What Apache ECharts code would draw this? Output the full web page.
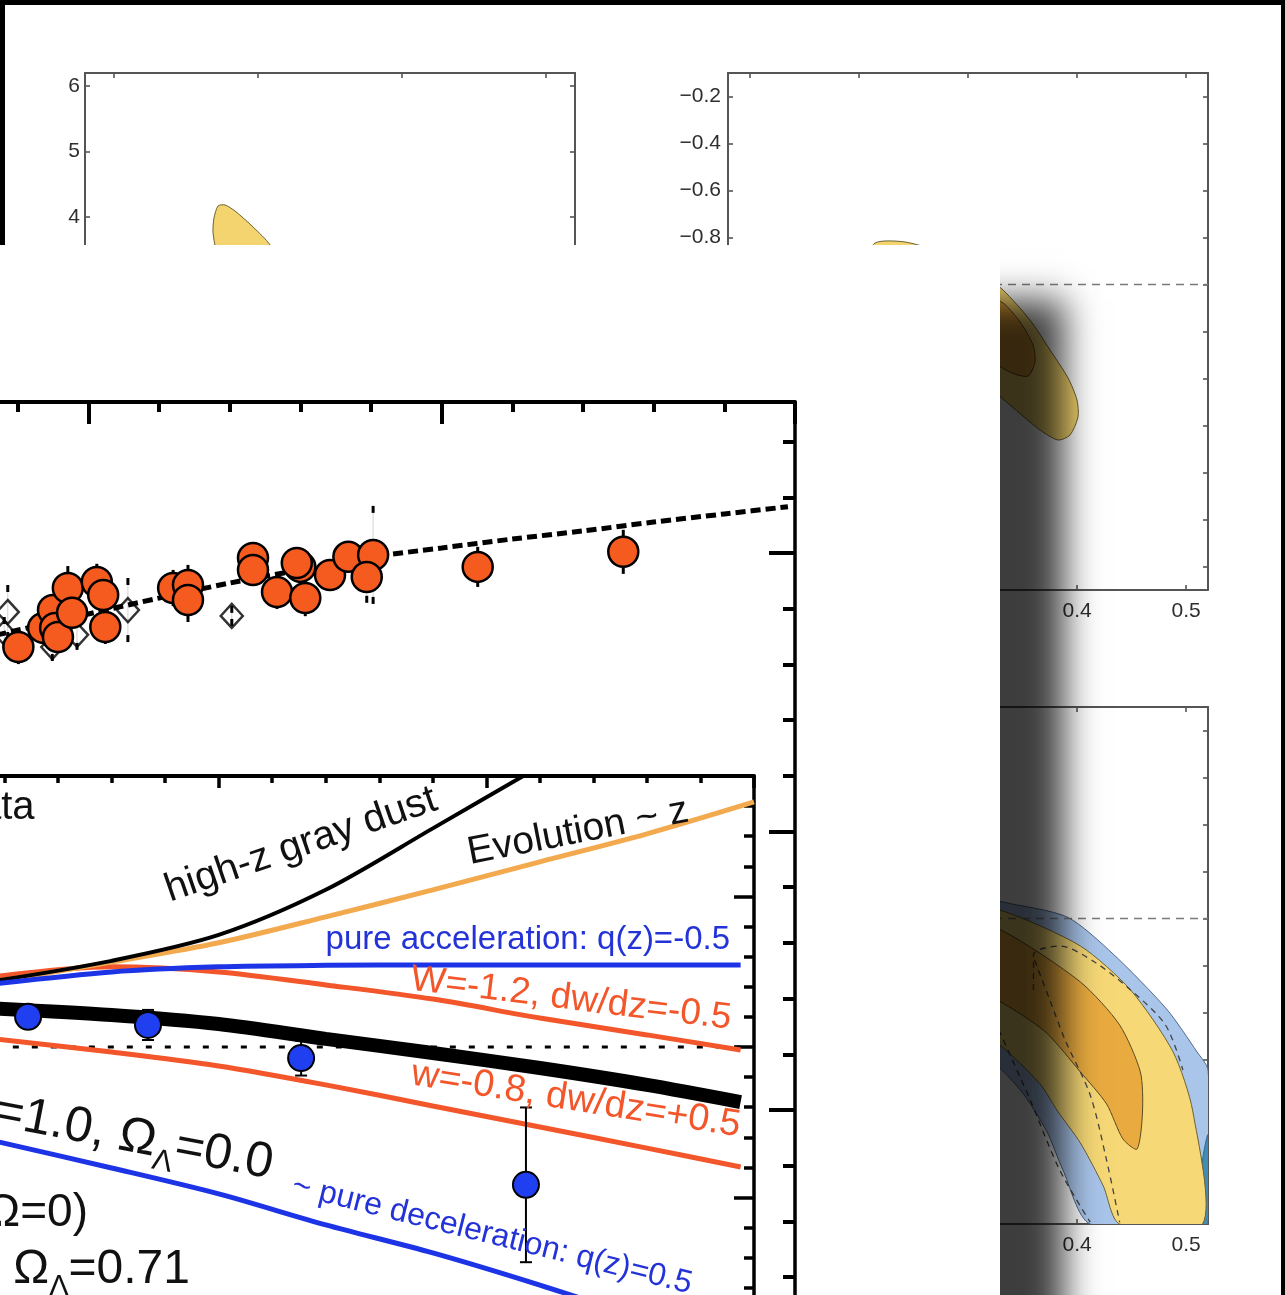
<!DOCTYPE html>
<html>
<head>
<meta charset="utf-8">
<script src="https://cdn.jsdelivr.net/npm/echarts@6/dist/echarts.min.js"></script>
<style>
  html, body { margin: 0; padding: 0; background: #000; }
  #chart { width: 1285px; height: 1295px; }
</style>
</head>
<body>
<div id="chart"></div>
<script>
// ---------------- Hubble diagram (redshift z vs distance modulus) ----------------
const snZ   = [0.401,0.436,0.450,0.453,0.457,0.471,0.477,0.512,0.521,0.524,0.620,0.641,0.641,0.733,0.733,0.767,0.800,0.807,0.842,0.868,0.903,0.894,0.795,1.051,1.257];
const snMu  = [43.662,43.731,43.795,43.731,43.698,43.874,43.785,43.896,43.849,43.734,43.874,43.885,43.831,43.982,43.939,43.860,43.950,43.838,43.921,43.986,43.993,43.914,43.964,43.950,44.004];
const snErr = [0.061,0.043,0.050,0.043,0.050,0.079,0.050,0.065,0.054,0.061,0.065,0.072,0.079,0.057,0.057,0.061,0.065,0.065,0.057,0.057,0.176,0.093,0.057,0.072,0.079];

const gZ   = [0.703,0.556,0.484,0.449,0.386,0.381];
const gMu  = [43.774,43.795,43.706,43.662,43.788,43.713];
const gErr = [0.036,0.115,0.054,0.050,0.097,0.057];

const modelZ  = [0.37,0.50,0.60,0.70,0.80,0.90,1.00,1.10,1.20,1.30,1.40,1.49];
const modelMu = [43.705,43.781,43.838,43.892,43.939,43.985,44.018,44.050,44.079,44.111,44.140,44.166];

// ---------------- Residual inset: Delta(m-M) vs z ----------------
const zGrid   = [0.08,0.30,0.50,0.70,0.90,1.10,1.30,1.475];
const dLCDM   = [0.128,0.106,0.076,0.027,-0.020,-0.070,-0.126,-0.183];
const dW12    = [0.233,0.266,0.249,0.206,0.159,0.096,0.040,-0.010];
const dAccel  = [0.209,0.249,0.266,0.271,0.272,0.272,0.272,0.272];
const dW08    = [0.027,-0.017,-0.063,-0.126,-0.196,-0.266,-0.336,-0.399];
const zDust   = [0.08,0.30,0.50,0.70,0.90,1.10];
const dDust   = [0.219,0.286,0.372,0.522,0.726,0.932];
const zEvol   = [0.08,0.30,0.50,0.70,0.90,1.10,1.30,1.50];
const dEvol   = [0.216,0.282,0.346,0.432,0.522,0.615,0.708,0.814];
const zDecel  = [0.08,0.30,0.50,0.70,0.90,1.10,1.30];
const dDecel  = [-0.312,-0.402,-0.488,-0.591,-0.684,-0.791,-0.907];
const zEmpty  = [0.08,1.475];
const dEmpty  = [0,0];
const binZ    = [0.144,0.368,0.654,1.074];
const binD    = [0.100,0.073,-0.037,-0.458];
const binErr  = [0.035,0.050,0.058,0.257];

// ---------------- Confidence contours (Omega_m vs second parameter) ----------------
const tlOuter = [[0.1723,4.168],[0.1695,3.984],[0.1688,3.770],[0.1709,3.495],[0.1771,3.037],[0.1876,2.426],[0.2028,1.814],[0.2222,1.356],[0.2396,1.203],[0.2500,1.356],[0.2486,1.814],[0.2361,2.426],[0.2222,2.960],[0.2084,3.572],[0.1966,3.847],[0.1841,4.091],[0.1771,4.183]];

const trOuter = [[0.2148,-0.8234],[0.2423,-0.8191],[0.2743,-0.8617],[0.3064,-0.9298],[0.3321,-1.0234],[0.3568,-1.1511],[0.3752,-1.2787],[0.3917,-1.3979],[0.3999,-1.4915],[0.4008,-1.5638],[0.3935,-1.6404],[0.3825,-1.6617],[0.3660,-1.6191],[0.3385,-1.5128],[0.3064,-1.3851],[0.2743,-1.2574],[0.2423,-1.1298],[0.2193,-1.0234],[0.2056,-0.9170]];
const trInner = [[0.3321,-1.0787],[0.3477,-1.1596],[0.3596,-1.2574],[0.3614,-1.3298],[0.3550,-1.3894],[0.3403,-1.3766],[0.3202,-1.3213],[0.2927,-1.2149],[0.2698,-1.1170],[0.2652,-1.0447],[0.2835,-1.0021],[0.3064,-1.0234]];

const brBlue = [[0.080,-0.496],[0.146,-0.645],[0.219,-0.785],[0.284,-0.879],[0.332,-0.930],[0.391,-0.994],[0.433,-1.151],[0.482,-1.385],[0.510,-1.568],[0.520,-1.645],[0.520,-2.300],[0.412,-2.300],[0.387,-2.070],[0.372,-1.904],[0.348,-1.730],[0.311,-1.560],[0.238,-1.347],[0.146,-1.177],[0.080,-1.049]];
const brTeal = [[0.520,-1.921],[0.515,-2.028],[0.513,-2.300],[0.520,-2.300]];
const brYellow = [[0.080,-0.581],[0.146,-0.717],[0.219,-0.857],[0.284,-0.930],[0.332,-0.968],[0.403,-1.117],[0.449,-1.304],[0.488,-1.568],[0.506,-1.819],[0.515,-2.300],[0.439,-2.300],[0.424,-2.138],[0.403,-1.955],[0.382,-1.819],[0.366,-1.704],[0.329,-1.538],[0.256,-1.304],[0.164,-1.092],[0.080,-0.921]];
const brOrange = [[0.219,-0.900],[0.284,-0.985],[0.332,-1.053],[0.403,-1.270],[0.439,-1.453],[0.458,-1.653],[0.460,-1.819],[0.455,-1.981],[0.442,-1.938],[0.427,-1.789],[0.403,-1.653],[0.372,-1.487],[0.341,-1.385],[0.302,-1.283],[0.247,-1.134],[0.210,-0.985]];
const brDashA = [[0.360,-1.304],[0.360,-1.155],[0.384,-1.117],[0.416,-1.185],[0.449,-1.304],[0.481,-1.453],[0.497,-1.645]];
const brDashB = [[0.361,-1.177],[0.375,-1.347],[0.389,-1.517],[0.412,-1.751],[0.427,-2.028],[0.439,-2.292]];
const brDashC = [[0.320,-1.389],[0.357,-1.772],[0.384,-2.070],[0.412,-2.292]];

// ---------------- Tick positions ----------------
const omTicksLeft  = [0.1,0.2,0.3,0.4];
const leftYTicks   = [-1,0,1,2,3,4,5,6];
const omTicksRight = [0.1,0.2,0.3,0.4,0.5];
const wTicks       = [-2.2,-2.0,-1.8,-1.6,-1.4,-1.2,-1.0,-0.8,-0.6,-0.4,-0.2];
const wLine        = [[0.08,-1],[0.52,-1]];

const FONT = '"Liberation Sans", Arial, Helvetica, sans-serif';
const zip = (a, b) => a.map((v, i) => [v, b[i]]);

function fmtNum(v) {
  const s = Math.abs(v) < 1e-9 ? '0' : (Number.isInteger(v) ? String(Math.abs(v)) : Math.abs(v).toFixed(1));
  return v < 0 ? '\u2212' + s : s;
}

function backAxis(gridIndex, position, min, max, ticks, labelMargin) {
  const showLabel = position === 'left' || position === 'bottom';
  return {
    type: 'value', gridIndex, position, min, max, z: 1,
    axisLine: { show: true, onZero: false, lineStyle: { color: '#555', width: 2 } },
    axisTick: { show: true, inside: true, length: 5, customValues: ticks, lineStyle: { color: '#555', width: 1.6 } },
    axisLabel: { show: showLabel, customValues: ticks, margin: labelMargin, color: '#2e2e2e', fontSize: 21, fontFamily: FONT, formatter: fmtNum },
    splitLine: { show: false }
  };
}

function polygon(xi, yi, pts, fill, stroke, z) {
  return {
    type: 'custom', xAxisIndex: xi, yAxisIndex: yi, z, silent: true, clip: true,
    data: [pts[0]],
    renderItem: (params, api) => ({
      type: 'polygon',
      shape: { points: pts.map(p => api.coord(p)), smooth: 0.25 },
      style: { fill, stroke, lineWidth: 1 }
    })
  };
}

function polyline(xi, yi, pts, color, width, dash, z, smooth) {
  return {
    type: 'line', xAxisIndex: xi, yAxisIndex: yi, z, silent: true,
    data: pts, showSymbol: false, symbol: 'none',
    smooth: smooth || false,
    lineStyle: { color, width, type: dash || 'solid', cap: 'butt' }
  };
}

// Full bars with caps (binned points)
function errorBars(xi, yi, xs, ys, es, capHalf, width, z) {
  return {
    type: 'custom', xAxisIndex: xi, yAxisIndex: yi, z, silent: true,
    data: xs.map((x, i) => [x, ys[i] - es[i], ys[i] + es[i]]),
    encode: { x: 0, y: [1, 2] },
    renderItem(params, api) {
      const lo = api.coord([api.value(0), api.value(1)]);
      const hi = api.coord([api.value(0), api.value(2)]);
      const st = { stroke: '#000', lineWidth: width };
      return { type: 'group', children: [
        { type: 'line', shape: { x1: lo[0], y1: lo[1], x2: hi[0], y2: hi[1] }, style: st },
        { type: 'line', shape: { x1: lo[0] - capHalf, y1: lo[1], x2: lo[0] + capHalf, y2: lo[1] }, style: st },
        { type: 'line', shape: { x1: hi[0] - capHalf, y1: hi[1], x2: hi[0] + capHalf, y2: hi[1] }, style: st }
      ] };
    }
  };
}

// Faint bars whose ends show as short heavy strokes (individual SNe)
function errorTips(xi, yi, xs, ys, es, z) {
  return {
    type: 'custom', xAxisIndex: xi, yAxisIndex: yi, z, silent: true,
    data: xs.map((x, i) => [x, ys[i] - es[i], ys[i] + es[i]]),
    encode: { x: 0, y: [1, 2] },
    renderItem(params, api) {
      const lo = api.coord([api.value(0), api.value(1)]);
      const hi = api.coord([api.value(0), api.value(2)]);
      const seg = Math.min(7, Math.abs(lo[1] - hi[1]) / 2);
      const st = { stroke: '#000', lineWidth: 3 };
      return { type: 'group', children: [
        { type: 'line', shape: { x1: lo[0], y1: lo[1], x2: hi[0], y2: hi[1] }, style: { stroke: 'rgba(0,0,0,0.18)', lineWidth: 1 } },
        { type: 'line', shape: { x1: lo[0], y1: lo[1], x2: lo[0], y2: lo[1] - seg }, style: st },
        { type: 'line', shape: { x1: hi[0], y1: hi[1], x2: hi[0], y2: hi[1] + seg }, style: st }
      ] };
    }
  };
}

const grids = [
  { left: 85,   top: 73,  width: 490,  height: 517 },
  { left: 728,  top: 73,  width: 480,  height: 517 },
  { left: 728,  top: 707, width: 480,  height: 517 },
  { left: -265, top: 402, width: 1060, height: 986.5 },
  { left: -49,  top: 776, width: 803,  height: 572 }
].map(g => Object.assign({ show: false, containLabel: false, outerBoundsMode: 'none' }, g));

const frontTick = (len, w) => ({ show: true, inside: true, length: len, lineStyle: { color: '#000', width: w } });

const xAxes = [
  backAxis(0, 'bottom', 0.08, 0.42, omTicksLeft, 11),
  backAxis(0, 'top',    0.08, 0.42, omTicksLeft, 11),
  backAxis(1, 'bottom', 0.08, 0.52, omTicksRight, 11),
  backAxis(1, 'top',    0.08, 0.52, omTicksRight, 11),
  backAxis(2, 'bottom', 0.08, 0.52, omTicksRight, 11),
  backAxis(2, 'top',    0.08, 0.52, omTicksRight, 11),
  { type: 'value', gridIndex: 3, position: 'top', min: 0, max: 1.5, interval: 0.5, z: 6,
    axisLine: { onZero: false, lineStyle: { color: '#000', width: 4 } },
    axisTick: frontTick(22, 4), minorTick: { show: true, splitNumber: 5, length: 10, lineStyle: { color: '#000', width: 4 } },
    axisLabel: { show: false }, splitLine: { show: false } },
  { type: 'value', gridIndex: 4, position: 'top', min: 0, max: 1.5, interval: 0.5, z: 6,
    axisLine: { onZero: false, lineStyle: { color: '#000', width: 4 } },
    axisTick: frontTick(12, 3.5), minorTick: { show: true, splitNumber: 5, length: 7, lineStyle: { color: '#000', width: 3.5 } },
    axisLabel: { show: false }, splitLine: { show: false } }
];

const yAxes = [
  backAxis(0, 'left',  -1.7, 6.2, leftYTicks, 5),
  backAxis(0, 'right', -1.7, 6.2, leftYTicks, 5),
  backAxis(1, 'left',  -2.3, -0.1, wTicks, 7),
  backAxis(1, 'right', -2.3, -0.1, wTicks, 7),
  backAxis(2, 'left',  -2.3, -0.1, wTicks, 7),
  backAxis(2, 'right', -2.3, -0.1, wTicks, 7),
  { type: 'value', gridIndex: 3, position: 'right', min: 41, max: 44.542, interval: 1, z: 6,
    axisLine: { onZero: false, lineStyle: { color: '#000', width: 3.5 } },
    axisTick: frontTick(26, 4), minorTick: { show: true, splitNumber: 5, length: 12, lineStyle: { color: '#000', width: 4 } },
    axisLabel: { show: false }, splitLine: { show: false } },
  { type: 'value', gridIndex: 4, position: 'right', min: -1, max: 0.9, interval: 0.5, z: 6,
    axisLine: { onZero: false, lineStyle: { color: '#000', width: 3.5 } },
    axisTick: frontTick(20, 3.5), minorTick: { show: true, splitNumber: 5, length: 10, lineStyle: { color: '#000', width: 3.5 } },
    axisLabel: { show: false }, splitLine: { show: false } }
];

const ORANGE = '#f2562a', BLUE = '#1c34e6', EVOL = '#f3a94e';

const series = [
  // contour panels behind the front sheet
  polygon(0, 0, tlOuter, '#f3d46e', '#6d6233', 2),
  polygon(2, 2, trOuter, '#f3d46e', '#6d6233', 2),
  polygon(2, 2, trInner, '#e3a23a', '#5c4a22', 2),
  polyline(2, 2, wLine, '#7a7a7a', 1.6, [8, 6], 3),
  polygon(4, 4, brBlue, '#a9c5ea', '#51698a', 2),
  polygon(4, 4, brTeal, '#3f8db6', '#2e6f92', 2),
  polygon(4, 4, brYellow, '#f6d876', '#6d6233', 2),
  polygon(4, 4, brOrange, '#e9ab40', '#5c4a22', 2),
  polyline(4, 4, brDashA, '#444', 1.3, [6, 5], 3, 0.3),
  polyline(4, 4, brDashB, '#444', 1.3, [6, 5], 3, 0.3),
  polyline(4, 4, brDashC, '#444', 1.3, [6, 5], 3, 0.3),
  polyline(4, 4, wLine, '#7a7a7a', 1.6, [8, 6], 3),

  // Hubble diagram
  errorTips(6, 6, snZ, snMu, snErr, 7),
  errorTips(6, 6, gZ, gMu, gErr, 7),
  polyline(6, 6, zip(modelZ, modelMu), '#000', 5, [10, 5], 7, 0.3),
  { type: 'scatter', xAxisIndex: 6, yAxisIndex: 6, z: 8, silent: true,
    data: zip(gZ, gMu), symbol: 'diamond', symbolSize: [22, 24],
    itemStyle: { color: 'rgba(0,0,0,0)', borderColor: '#000', borderWidth: 2.5 } },
  { type: 'scatter', xAxisIndex: 6, yAxisIndex: 6, z: 9, silent: true,
    data: zip(snZ, snMu), symbol: 'circle', symbolSize: 30,
    itemStyle: { color: '#f55a1f', borderColor: '#000', borderWidth: 2.5, opacity: 1 } },

  // residual inset
  polyline(7, 7, zip(zEmpty, dEmpty), '#000', 3, [6, 13], 7),
  polyline(7, 7, zip(zGrid, dW08), ORANGE, 5, 'solid', 7, 0.3),
  polyline(7, 7, zip(zGrid, dW12), ORANGE, 5, 'solid', 7, 0.3),
  polyline(7, 7, zip(zDecel, dDecel), BLUE, 5, 'solid', 7, 0.3),
  polyline(7, 7, zip(zEvol, dEvol), EVOL, 5, 'solid', 7, 0.3),
  polyline(7, 7, zip(zDust, dDust), '#000', 4, 'solid', 7, 0.3),
  polyline(7, 7, zip(zGrid, dAccel), BLUE, 5, 'solid', 7, 0.3),
  polyline(7, 7, zip(zGrid, dLCDM), '#000', 14, 'solid', 7, 0.3),
  errorBars(7, 7, binZ, binD, binErr, 6, 2, 8),
  { type: 'scatter', xAxisIndex: 7, yAxisIndex: 7, z: 9, silent: true,
    data: zip(binZ, binD), symbol: 'circle', symbolSize: 26,
    itemStyle: { color: '#1f3ff0', borderColor: '#000', borderWidth: 2, opacity: 1 } }
];

const deg = Math.PI / 180;
function label(text, x, y, size, color, rot, align, rich) {
  const style = { text, x: 0, y: 0, fill: color, font: size + 'px ' + FONT, align: align || 'center', verticalAlign: 'middle' };
  if (rich) style.rich = rich;
  return { type: 'text', x, y, rotation: (rot || 0) * deg, z: 10, silent: true, style };
}
function omegaRich(size, color) {
  return {
    t: { fontSize: size, fontFamily: FONT, fill: color, lineHeight: size + 4, verticalAlign: 'top' },
    s: { fontSize: Math.round(size * 0.6), fontFamily: FONT, fill: color, lineHeight: Math.round(size * 0.6), verticalAlign: 'top', padding: [Math.round(size * 0.55), 0, 0, 0] }
  };
}

const graphics = [
  { type: 'rect', z: 0, silent: true, shape: { x: 5, y: 5, width: 1276, height: 1300 }, style: { fill: '#fff' } },
  { type: 'rect', z: 5, silent: true, shape: { x: -60, y: 245, width: 1060, height: 1200 },
    style: { fill: '#fff', shadowBlur: 34, shadowColor: 'rgba(0,0,0,0.76)', shadowOffsetX: 64, shadowOffsetY: 55 } },
  label('Data', -50, 808, 40, '#111', 0, 'left'),
  label('high-z gray dust', 301, 845, 40, '#111', 19),
  label('Evolution ~ z', 578, 832, 39, '#111', 11),
  label('pure acceleration: q(z)=-0.5', 730, 940, 33, '#2433d8', 0, 'right'),
  label('W=-1.2, dw/dz=-0.5', 571, 999, 37, ORANGE, -7),
  label('w=-0.8, dw/dz=+0.5', 576, 1100, 38, ORANGE, -9),
  label('{t|\u03A9}{s|M}{t|=1.0, \u03A9}{s|\u039B}{t|=0.0}', 272, 1167, 50, '#111', -11, 'right', omegaRich(50, '#111')),
  label('~ pure deceleration: q(z)=0.5', 492, 1235, 32, '#2433d8', -14),
  label('{t|Empty (\u03A9=0)}', 88, 1215, 46, '#111', 0, 'right', omegaRich(46, '#111')),
  label('{t|\u03A9}{s|M}{t|=0.29, \u03A9}{s|\u039B}{t|=0.71}', 190, 1272, 48, '#111', 0, 'right', omegaRich(48, '#111'))
];

const chart = echarts.init(document.getElementById('chart'), null, { renderer: 'canvas' });
chart.setOption({
  backgroundColor: '#000',
  animation: false,
  grid: grids,
  xAxis: xAxes,
  yAxis: yAxes,
  series,
  graphic: { elements: graphics }
});
</script>
</body>
</html>
